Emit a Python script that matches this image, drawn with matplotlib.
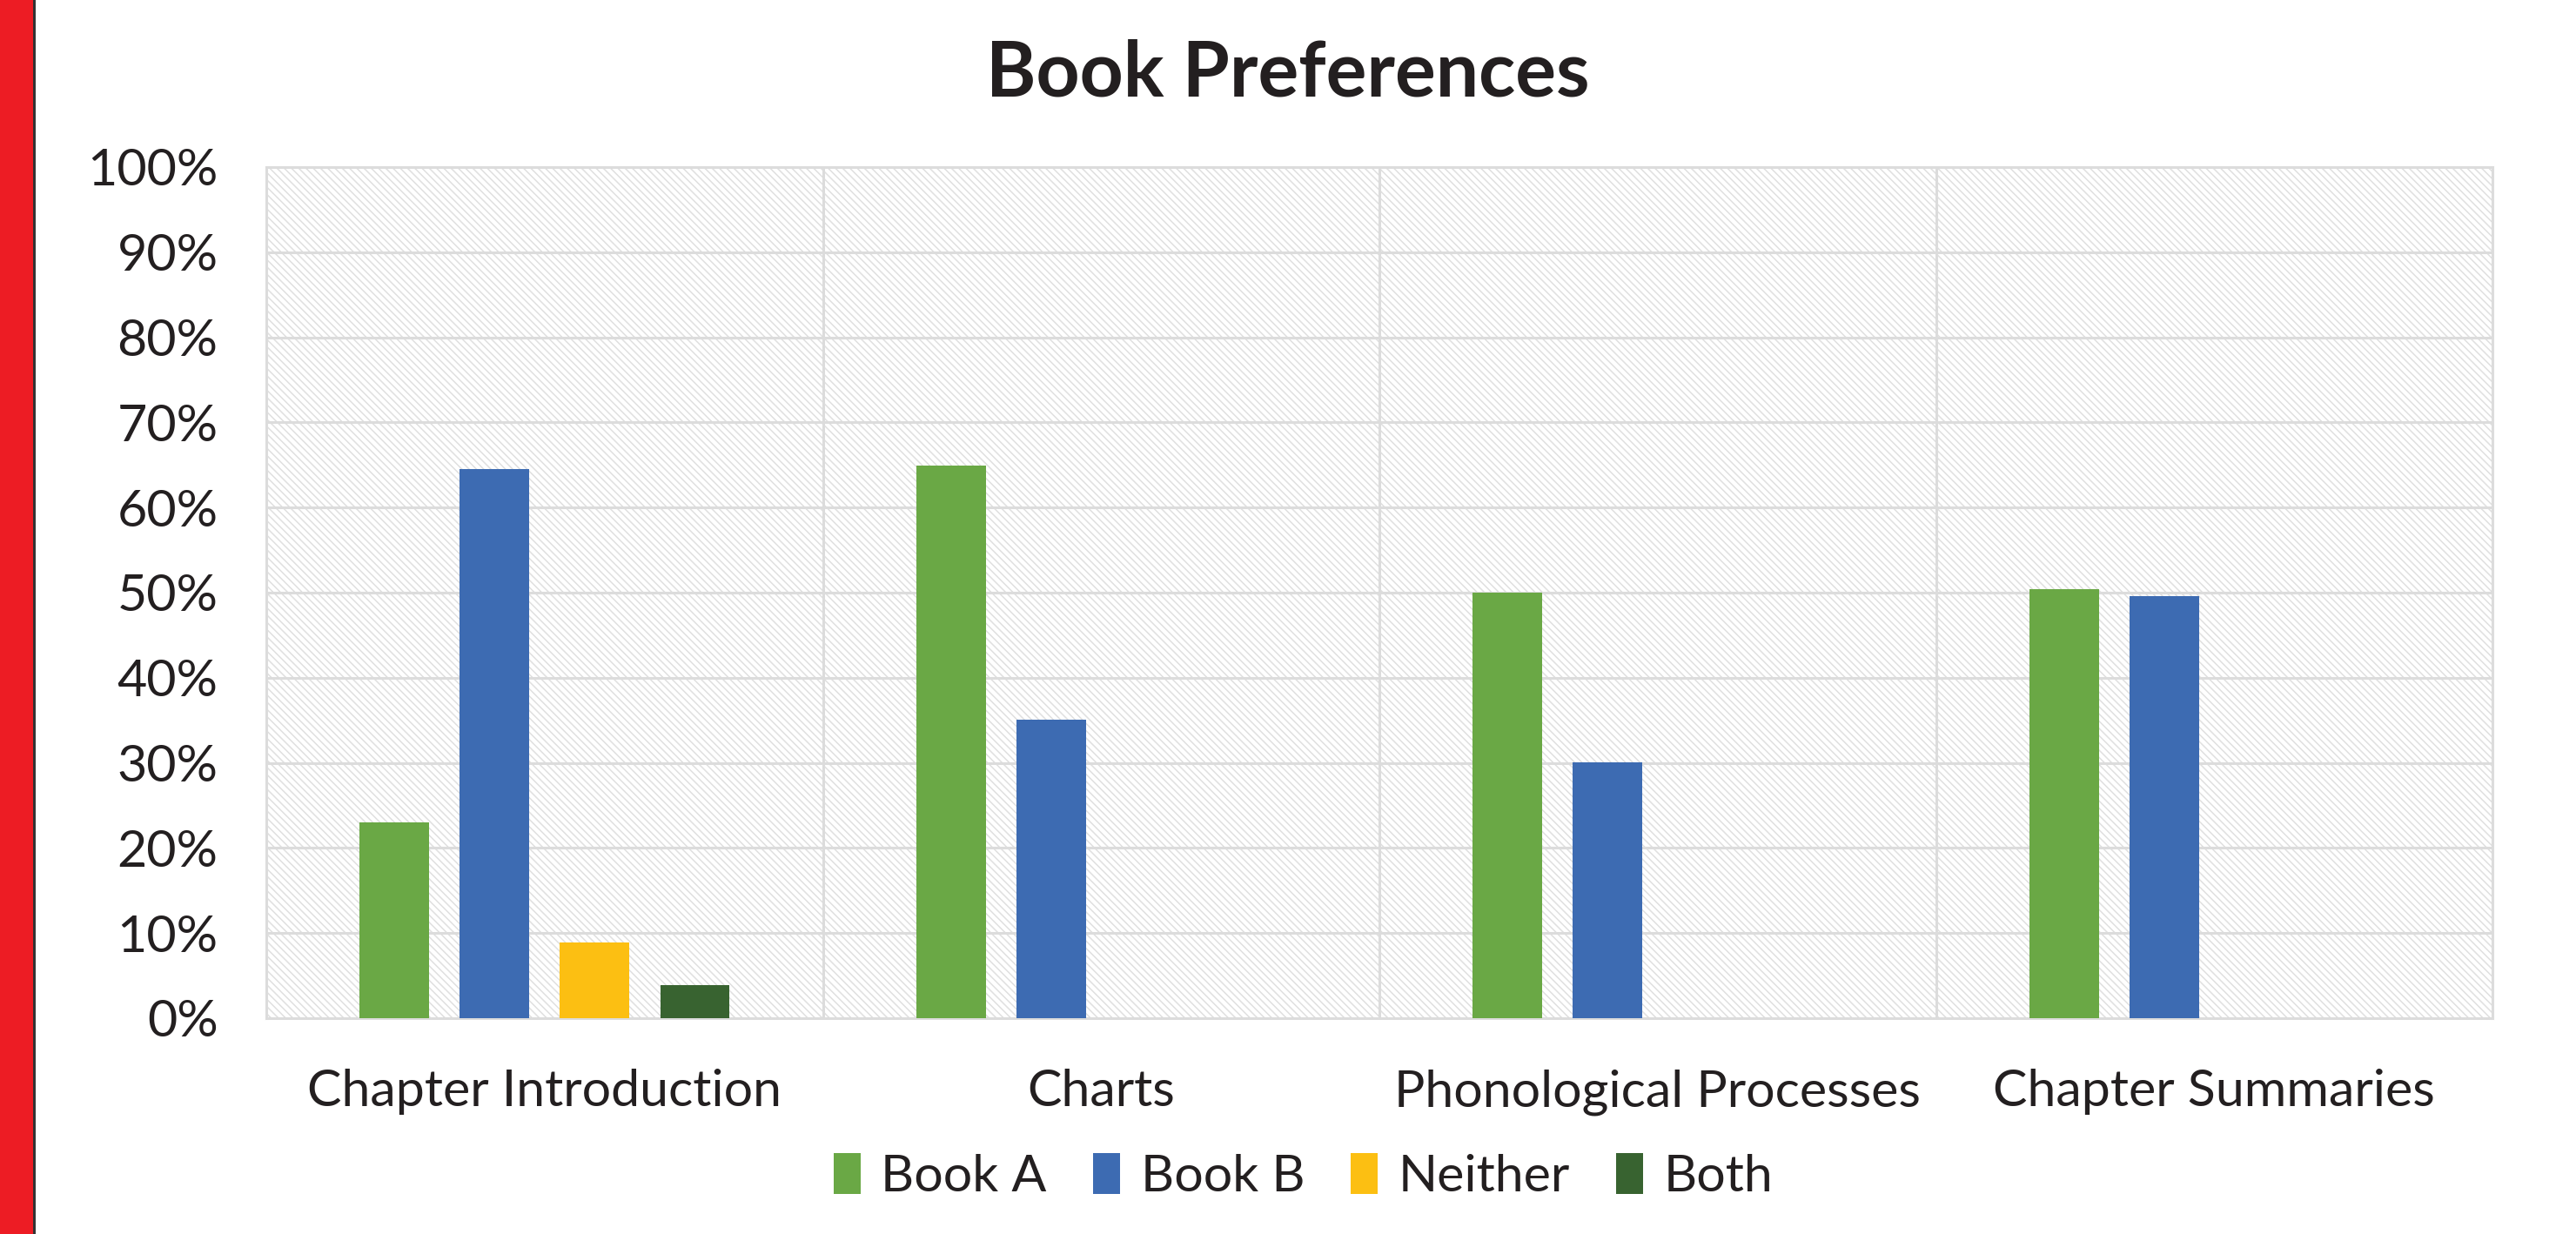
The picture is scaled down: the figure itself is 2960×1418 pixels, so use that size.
import numpy as np
import matplotlib.pyplot as plt
from matplotlib.patches import Rectangle, Patch

# data
categories = ["Chapter Introduction", "Charts", "Phonological Processes", "Chapter Summaries"]
series = ["Book A", "Book B", "Neither", "Both"]
book_a = [23.0, 64.9, 50.0, 50.4]
book_b = [64.5, 35.1, 30.1, 49.6]
neither = [8.9, 0, 0, 0]
both = [3.9, 0, 0, 0]
yticks = [0, 10, 20, 30, 40, 50, 60, 70, 80, 90, 100]

colors = ["#6AA845", "#3D6BB2", "#FCBF12", "#386330"]
txt = "#231F20"

plt.rcParams["font.family"] = ["Lato", "DejaVu Sans"]
plt.rcParams["hatch.linewidth"] = 0.55

fig = plt.figure(figsize=(14.8, 7.09), dpi=200)
ax = fig.add_axes([0.1034, 0.1749, 0.8642, 0.6897])

# hatched plot background
ax.set_facecolor("white")
ax.add_patch(Rectangle((0, 0), 1, 1, transform=ax.transAxes, facecolor="white",
                       edgecolor="#e0e0e0", hatch="\\\\\\\\\\\\\\\\", linewidth=0, zorder=0))

x = np.arange(len(categories))
offsets = [-0.27, -0.09, 0.09, 0.27]
width = 0.125
for vals, off, c in zip([book_a, book_b, neither, both], offsets, colors):
    ax.bar(x + off, vals, width, color=c, zorder=3)

ax.set_xlim(-0.5, len(categories) - 0.5)
ax.set_ylim(0, 100)
ax.set_yticks(yticks)
ax.set_yticklabels([f"{v}%" for v in yticks])
ax.set_xticks(x)
ax.set_xticklabels(categories)
ax.set_xticks(x[:-1] + 0.5, minor=True)
ax.tick_params(axis="both", which="both", length=0, labelsize=21.3, colors=txt)
ax.tick_params(axis="y", pad=20)
ax.tick_params(axis="x", pad=21)
ax.grid(axis="y", color="#dcdcdc", linewidth=1.1, zorder=1)
ax.grid(axis="x", which="minor", color="#dcdcdc", linewidth=1.1, zorder=1)
for s in ax.spines.values():
    s.set_color("#dcdcdc")
    s.set_linewidth(1.1)

fig.suptitle("Book Preferences", x=0.5, y=0.94, va="center", fontsize=31.5,
             fontweight="bold", color=txt)

handles = [Patch(facecolor=c, label=s) for c, s in zip(colors, series)]
fig.legend(handles=handles, loc="center", bbox_to_anchor=(0.506, 0.0466), ncol=4,
           frameon=False, fontsize=21.3, handlelength=0.52, handleheight=0.85,
           handletextpad=0.4, columnspacing=0.9, labelcolor=txt)

# red strip on the left edge
fig.add_artist(Rectangle((0, 0), 38 / 2960, 1, transform=fig.transFigure,
                         facecolor="#ED1C24", edgecolor="none"))
fig.add_artist(Rectangle((38 / 2960, 0), 3 / 2960, 1, transform=fig.transFigure,
                         facecolor="#333333", edgecolor="none"))

fig.savefig("out.png", dpi=200)
